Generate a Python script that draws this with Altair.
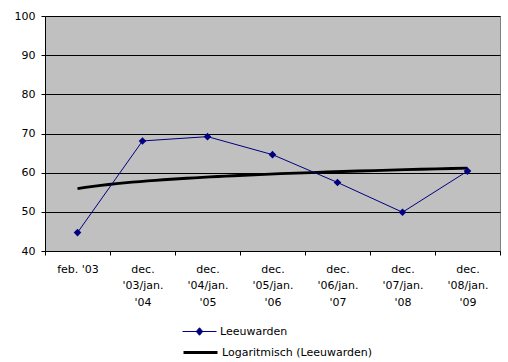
import altair as alt
import pandas as pd

# Survey moments (x positions 1..7) and their scores for Leeuwarden
periode_labels = [
    ["feb. '03"],
    ["dec.", "'03/jan.", "'04"],
    ["dec.", "'04/jan.", "'05"],
    ["dec.", "'05/jan.", "'06"],
    ["dec.", "'06/jan.", "'07"],
    ["dec.", "'07/jan.", "'08"],
    ["dec.", "'08/jan.", "'09"],
]
periode_index = [1, 2, 3, 4, 5, 6, 7]
leeuwarden = [44.7, 68.1, 69.2, 64.6, 57.5, 49.9, 60.4]

serie_naam = "Leeuwarden"
trend_naam = "Logaritmisch (Leeuwarden)"

y_ticks = [40, 50, 60, 70, 80, 90, 100]
x_ticks = [0.5 + 0.5 * i for i in range(15)]

df = pd.DataFrame({"idx": periode_index, "score": leeuwarden, "reeks": serie_naam})

FONT = "DejaVu Sans"
NAVY = "#000080"

# Multi-line category labels: each integer tick gets its lines, split on '|'
label_expr = "''"
for i in reversed(periode_index):
    joined = "|".join(periode_labels[i - 1])
    label_expr = f"datum.value == {i} ? split(\"{joined}\", '|') : ({label_expr})"

x_enc = alt.X(
    "idx:Q",
    scale=alt.Scale(domain=[0.5, 7.5], nice=False, zero=False),
    axis=alt.Axis(
        title=None,
        values=x_ticks,
        labelExpr=label_expr,
        labelOverlap=False,
        labelFlush=False,
        labelBound=False,
        labelFont=FONT,
        labelFontSize=11,
        labelColor="#000000",
        labelLineHeight=16.7,
        labelPadding=8,
        labelBaseline="top",
        tickSize=4,
        tickColor="#000000",
        tickOpacity={"condition": {"test": "datum.value % 1 == 0", "value": 0}, "value": 1},
        domainColor="#000000",
        grid=False,
    ),
)

y_enc = alt.Y(
    "score:Q",
    scale=alt.Scale(domain=[40, 100], nice=False, zero=False),
    axis=alt.Axis(
        title=None,
        values=y_ticks,
        labelOverlap=False,
        labelFont=FONT,
        labelFontSize=11,
        labelColor="#000000",
        labelPadding=6,
        tickSize=4,
        tickColor="#000000",
        domainColor="#000000",
        grid=True,
        gridColor="#000000",
        gridWidth=1,
    ),
)

base = alt.Chart(df)

lijn = base.mark_line(strokeWidth=1).encode(
    x=x_enc,
    y=y_enc,
    color=alt.Color(
        "reeks:N",
        scale=alt.Scale(domain=[serie_naam], range=[NAVY]),
        legend=alt.Legend(
            title=None,
            orient="none",
            legendX=137,
            legendY=298,
            symbolType="M-1,0H1M0,-0.22L0.19,0L0,0.22L-0.19,0Z",
            symbolSize=1156,
            symbolFillColor=NAVY,
            symbolStrokeColor=NAVY,
            symbolStrokeWidth=1,
            labelFont=FONT,
            labelFontSize=11,
            labelColor="#000000",
            labelOffset=3,
        ),
    ),
)

punten = base.mark_point(shape="diamond", filled=True, size=58, opacity=1).encode(
    x=x_enc,
    y=y_enc,
    color=alt.value(NAVY),
)

trend = (
    base.transform_regression("idx", "score", method="log", extent=[1, 7])
    .transform_calculate(trend="'" + trend_naam + "'")
    .mark_line(strokeWidth=2.8)
    .encode(
        x=x_enc,
        y=y_enc,
        stroke=alt.Stroke(
            "trend:N",
            scale=alt.Scale(domain=[trend_naam], range=["#000000"]),
            legend=alt.Legend(
                title=None,
                orient="none",
                legendX=137,
                legendY=318,
                symbolType="stroke",
                symbolSize=1156,
                symbolStrokeWidth=2.8,
                labelFont=FONT,
                labelFontSize=11,
                labelColor="#000000",
                labelOffset=3,
            ),
        ),
    )
)

chart = (
    alt.layer(trend, lijn, punten)
    .properties(
        width=455,
        height=235,
        autosize=alt.AutoSizeParams(type="none"),
        padding={"left": 45, "top": 16, "right": 8, "bottom": 111},
        background="#ffffff",
    )
    .configure_view(fill="#C0C0C0", stroke="#808080", strokeWidth=1)
)

chart.save("out.html", embed_options={"renderer": "svg", "actions": False})
